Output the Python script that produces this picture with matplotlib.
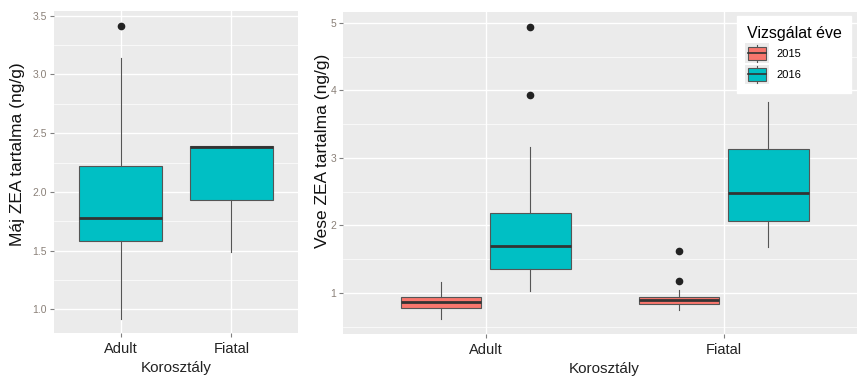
import matplotlib
matplotlib.use('Agg')
import matplotlib.pyplot as plt
from matplotlib.patches import Patch, Rectangle
from matplotlib.lines import Line2D
from matplotlib.legend_handler import HandlerBase
from matplotlib.ticker import MultipleLocator, FormatStrFormatter

plt.rcParams['font.family'] = ['Liberation Sans', 'DejaVu Sans']

# Dati
categories = ['Adult', 'Fiatal']
years = ['2015', '2016']
colors = {'2015': '#F8766D', '2016': '#00BFC4'}

# Máj (bal panel): whislo, q1, med, q3, whishi, outliers
maj_whislo = [0.92, 1.49]
maj_q1 = [1.58, 1.93]
maj_med = [1.78, 2.38]
maj_q3 = [2.22, 2.39]
maj_whishi = [3.14, 2.39]
maj_fliers = [[3.41], []]

# Vese (jobb panel), [Adult, Fiatal] for each year
vese_whislo = {'2015': [0.61, 0.75], '2016': [1.02, 1.68]}
vese_q1 = {'2015': [0.78, 0.84], '2016': [1.35, 2.07]}
vese_med = {'2015': [0.87, 0.89], '2016': [1.70, 2.48]}
vese_q3 = {'2015': [0.94, 0.94], '2016': [2.18, 3.13]}
vese_whishi = {'2015': [1.16, 1.04], '2016': [3.16, 3.82]}
vese_fliers = {'2015': [[], [1.18, 1.62]], '2016': [[3.93, 4.94], []]}


class HandlerMiniBox(HandlerBase):
    # kis boxplot a legendában, ggplot stílusban
    def create_artists(self, legend, orig_handle, xdescent, ydescent,
                       width, height, fontsize, trans):
        bg = Rectangle((-xdescent - 1, -ydescent - 1), width + 2, height + 2,
                       facecolor='#EBEBEB', edgecolor='none', transform=trans)
        x0 = -xdescent + 0.08 * width
        w = 0.84 * width
        y0 = -ydescent + 0.14 * height
        h = 0.72 * height
        box = Rectangle((x0, y0), w, h, facecolor=orig_handle.get_facecolor(),
                        edgecolor='#555555', linewidth=0.8, transform=trans)
        xm = -xdescent + width / 2
        wl = Line2D([xm, xm], [-ydescent, y0], color='#555555', linewidth=0.8, transform=trans)
        wh = Line2D([xm, xm], [y0 + h, -ydescent + height], color='#555555', linewidth=0.8, transform=trans)
        med = Line2D([x0, x0 + w], [y0 + h / 2] * 2, color='#333333', linewidth=1.2, transform=trans)
        return [bg, wl, wh, box, med]


def style_panel(ax):
    ax.set_facecolor('#EBEBEB')
    for s in ax.spines.values():
        s.set_visible(False)
    ax.grid(True, which='major', color='white', linewidth=1.0)
    ax.grid(True, which='minor', axis='y', color='white', linewidth=0.5)
    ax.set_axisbelow(True)
    ax.tick_params(axis='both', which='major', length=3, color='#7F7F7F')
    ax.tick_params(axis='y', labelsize=7.5, labelcolor='#8A8078', pad=2)
    ax.tick_params(axis='x', labelsize=10.5, labelcolor='#222222')
    ax.tick_params(which='minor', length=0)


box_kw = dict(patch_artist=True, showfliers=True,
              boxprops=dict(edgecolor='#555555', linewidth=0.8),
              whiskerprops=dict(color='#555555', linewidth=0.8),
              capprops=dict(linewidth=0),
              medianprops=dict(color='#333333', linewidth=2),
              flierprops=dict(marker='o', markerfacecolor='#222222', markeredgecolor='#222222', markersize=4.5))

fig = plt.figure(figsize=(8.57, 3.77), dpi=100)

# Bal panel
ax1 = fig.add_axes([54 / 857, 44 / 377, 244 / 857, 322 / 377])
stats = []
for i in range(len(categories)):
    stats.append(dict(med=maj_med[i], q1=maj_q1[i], q3=maj_q3[i],
                      whislo=maj_whislo[i], whishi=maj_whishi[i], fliers=maj_fliers[i]))
bp = ax1.bxp(stats, positions=[1, 2], widths=0.75, **box_kw)
for b in bp['boxes']:
    b.set_facecolor(colors['2016'])
ax1.set_xlim(0.4, 2.6)
ax1.set_ylim(0.8, 3.54)
ax1.set_xticks([1, 2])
ax1.set_xticklabels(categories)
ax1.yaxis.set_major_locator(MultipleLocator(0.5))
ax1.yaxis.set_minor_locator(MultipleLocator(0.25))
ax1.yaxis.set_major_formatter(FormatStrFormatter('%.1f'))
style_panel(ax1)
ax1.set_ylabel('Máj ZEA tartalma (ng/g)', fontsize=12.5, color='#111111')
ax1.yaxis.set_label_coords(-0.118, 0.554)
ax1.set_xlabel('Korosztály', fontsize=11, color='#222222')
ax1.xaxis.set_label_coords(0.5, -0.088)

# Jobb panel
ax2 = fig.add_axes([343 / 857, 43 / 377, 514 / 857, 322 / 377])
offsets = {'2015': -0.1875, '2016': 0.1875}
for y in years:
    st = []
    for i in range(len(categories)):
        st.append(dict(med=vese_med[y][i], q1=vese_q1[y][i], q3=vese_q3[y][i],
                       whislo=vese_whislo[y][i], whishi=vese_whishi[y][i], fliers=vese_fliers[y][i]))
    bp = ax2.bxp(st, positions=[1 + offsets[y], 2 + offsets[y]], widths=0.3375, **box_kw)
    for b in bp['boxes']:
        b.set_facecolor(colors[y])
ax2.set_xlim(0.4, 2.56)
ax2.set_ylim(0.39, 5.16)
ax2.set_xticks([1, 2])
ax2.set_xticklabels(categories)
ax2.yaxis.set_major_locator(MultipleLocator(1))
ax2.yaxis.set_minor_locator(MultipleLocator(0.5))
style_panel(ax2)
ax2.set_ylabel('Vese ZEA tartalma (ng/g)', fontsize=12.5, color='#111111')
ax2.yaxis.set_label_coords(-0.026, 0.57)
ax2.set_xlabel('Korosztály', fontsize=11, color='#222222')
ax2.xaxis.set_label_coords((604 - 343) / 514, -0.086)

handles = [Patch(facecolor=colors[y], edgecolor='#555555', label=y) for y in years]
leg = ax2.legend(handles=handles, title='Vizsgálat éve', loc='upper right',
                 bbox_to_anchor=(1.0, 1.005), fontsize=8, title_fontsize=11.5,
                 frameon=True, fancybox=False, framealpha=1, edgecolor='white',
                 handlelength=1.9, handleheight=2.0, borderpad=0.9, labelspacing=0.35,
                 handletextpad=0.8,
                 handler_map={Patch: HandlerMiniBox()})
leg._legend_box.align = 'left'
leg.set_zorder(10)

fig.savefig('out.png', dpi=100)
